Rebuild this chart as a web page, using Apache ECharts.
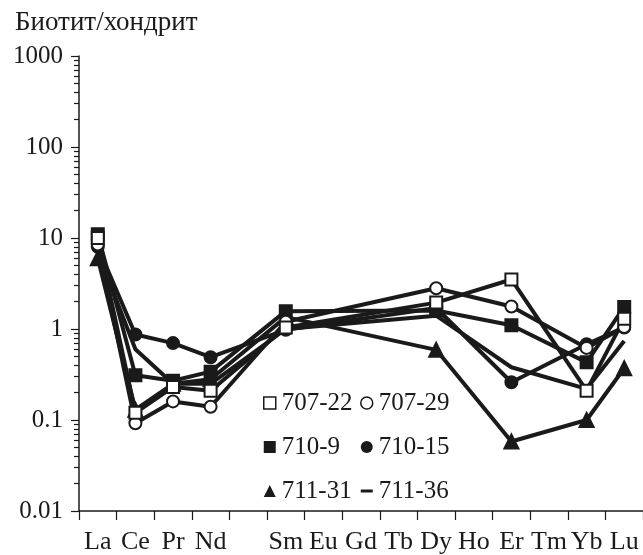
<!DOCTYPE html>
<html>
<head>
<meta charset="utf-8">
<script src="https://cdn.jsdelivr.net/npm/echarts@6/dist/echarts.min.js"></script>
<style>
html, body { margin: 0; background: #fff; }
#main { width: 643px; height: 555px; }
</style>
</head>
<body>
<div id="main"></div>
<script>
// элементы (Pm без подписи)
const elements = ['La', 'Ce', 'Pr', 'Nd', 'Pm', 'Sm', 'Eu', 'Gd', 'Tb', 'Dy', 'Ho', 'Er', 'Tm', 'Yb', 'Lu'];
const hiddenLabels = ['Pm'];

// биотит / хондрит
const s707_22 = [10, 0.12, 0.23, 0.21, null, 1.04, null, null, null, 1.95, null, 3.5, null, 0.21, 1.3];
const s707_29 = [8.5, 0.092, 0.16, 0.14, null, 1.2, null, null, null, 2.8, null, 1.77, null, 0.62, 1.05];
const s710_9 = [11, 0.31, 0.27, 0.34, null, 1.57, null, null, null, 1.6, null, 1.1, null, 0.43, 1.75];
const s710_15 = [8, 0.87, 0.7, 0.49, null, 0.98, null, null, null, 1.7, null, 0.26, null, 0.68, 1.04];
const s711_31 = [6, 0.13, 0.25, 0.28, null, 1.35, null, null, null, 0.59, null, 0.058, null, 0.1, 0.37];
const s711_36 = [7, 0.6, 0.25, 0.25, null, 1.0, null, null, null, 1.4, null, 0.38, null, 0.22, 0.74];

const yTicks = [0.01, 0.1, 1, 10, 100, 1000];
const yMinorTicks = [];
for (let d = 0; d < yTicks.length - 1; d++) {
    for (let m = 2; m <= 9; m++) yMinorTicks.push(+(yTicks[d] * m).toPrecision(3));
}

const font = 'Liberation Serif';
const ink = '#1a1a1a';

function mkSeries(name, data, symbol, fill, size) {
    return {
        name: name,
        type: 'line',
        data: data,
        connectNulls: true,
        symbol: symbol,
        symbolSize: size || 12,
        color: ink,
        lineStyle: { color: ink, width: 4 },
        itemStyle: { color: fill, borderColor: ink, borderWidth: 2 }
    };
}

function mkLegend(top, left, items) {
    return {
        orient: 'vertical',
        left: left,
        top: top,
        itemWidth: 12,
        itemHeight: 12,
        itemGap: 18,
        selectedMode: false,
        textStyle: { fontFamily: font, fontSize: 25, color: ink, lineHeight: 26, padding: [0, 0, 0, 1] },
        data: items
    };
}

let myChart = echarts.init(document.getElementById('main'));
myChart.setOption({
    animation: false,
    title: {
        text: 'Биотит/хондрит',
        left: 10,
        top: 4,
        textStyle: { fontFamily: font, fontSize: 27, fontWeight: 'normal', color: ink }
    },
    legend: [
        mkLegend(385, 258, [
            { name: '707-22', icon: 'rect', itemStyle: { color: '#fff', borderColor: ink, borderWidth: 1.5 } },
            { name: '710-9', icon: 'rect', itemStyle: { color: ink, borderWidth: 0 } },
            { name: '711-31', icon: 'triangle', itemStyle: { color: ink, borderWidth: 0 } }
        ]),
        mkLegend(385, 355, [
            { name: '707-29', icon: 'circle', itemStyle: { color: '#fff', borderColor: ink, borderWidth: 1.5 } },
            { name: '710-15', icon: 'circle', itemStyle: { color: ink, borderWidth: 0 } },
            { name: '711-36', icon: 'path://M0,0H12V3H0Z', itemStyle: { color: ink, borderWidth: 0 } }
        ])
    ],
    grid: { left: 79, right: 0, top: 56, bottom: 42 },
    xAxis: {
        type: 'category',
        data: elements,
        boundaryGap: true,
        axisLine: { lineStyle: { color: ink, width: 1.5 } },
        axisTick: { show: true, length: 9, interval: 0, alignWithLabel: false, lineStyle: { color: ink, width: 1.2 } },
        axisLabel: {
            interval: 0,
            margin: 18,
            fontFamily: font,
            fontSize: 26,
            color: ink,
            formatter: v => hiddenLabels.includes(v) ? '' : v
        },
        splitLine: { show: false }
    },
    yAxis: [{
        type: 'log',
        logBase: 10,
        min: 0.01,
        max: 1000,
        interval: 1,
        axisLine: { show: true, lineStyle: { color: ink, width: 1.5 } },
        axisTick: { show: true, length: 8, lineStyle: { color: ink, width: 1.2 } },
        axisLabel: {
            margin: 16,
            fontFamily: font,
            fontSize: 25,
            color: ink,
            formatter: v => String(v)
        },
        splitLine: { show: false }
    }, {
        type: 'log',
        logBase: 10,
        min: 0.01,
        max: 1000,
        position: 'left',
        axisLine: { show: false },
        axisTick: { show: true, length: 5, customValues: yMinorTicks, lineStyle: { color: ink, width: 1.2 } },
        axisLabel: { show: false },
        splitLine: { show: false }
    }],
    series: [
        mkSeries('711-36', s711_36, 'none', ink),
        mkSeries('711-31', s711_31, 'triangle', ink, 14),
        mkSeries('710-15', s710_15, 'circle', ink),
        mkSeries('710-9', s710_9, 'rect', ink),
        mkSeries('707-29', s707_29, 'circle', '#fff'),
        mkSeries('707-22', s707_22, 'rect', '#fff')
    ]
});
</script>
</body>
</html>
